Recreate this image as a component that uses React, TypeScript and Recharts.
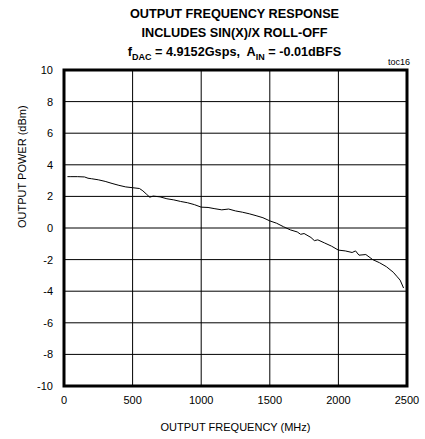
import React from 'react';
import { LineChart, Line, XAxis, YAxis, CartesianGrid, ReferenceArea } from 'recharts';

const freq = [
  25, 50, 100, 150, 175, 200, 250, 300, 350, 400, 450, 500, 550, 575, 600, 625, 650, 700, 750, 800,
  850, 900, 950, 1000, 1050, 1100, 1150, 1200, 1250, 1300, 1350, 1400, 1450, 1500, 1550, 1600,
  1650, 1700, 1725, 1750, 1800, 1825, 1850, 1900, 1950, 2000, 2050, 2100, 2125, 2150, 2200,
  2250, 2300, 2350, 2400, 2425, 2450, 2475,
];
const power = [
  3.25, 3.25, 3.25, 3.23, 3.15, 3.12, 3.05, 2.95, 2.82, 2.7, 2.6, 2.55, 2.5, 2.35, 2.15, 1.95, 2.02, 1.97, 1.85, 1.78,
  1.68, 1.6, 1.48, 1.32, 1.3, 1.22, 1.15, 1.2, 1.08, 1.0, 0.9, 0.78, 0.65, 0.45, 0.3, 0.08,
  -0.12, -0.25, -0.4, -0.35, -0.6, -0.8, -0.75, -0.95, -1.15, -1.4, -1.45, -1.55, -1.45, -1.72, -1.68,
  -2.0, -2.2, -2.45, -2.8, -3.05, -3.3, -3.8,
];
const xTicks = [0, 500, 1000, 1500, 2000, 2500];
const yTicks = [-10, -8, -6, -4, -2, 0, 2, 4, 6, 8, 10];

const data = freq.map((f, i) => ({ f, p: power[i] }));

const font = "'Liberation Sans', Arial, sans-serif";

export default function App() {
  return (
    <div style={{ position: 'absolute', left: 0, top: 0, width: 425, height: 439, background: '#fff', fontFamily: font }}>
      <LineChart width={425} height={439} data={data} margin={{ top: 70, right: 18, bottom: 0, left: 34 }}>
        <CartesianGrid stroke="#000" strokeWidth={1} />
        <XAxis
          dataKey="f"
          type="number"
          domain={[0, 2500]}
          ticks={xTicks}
          height={53}
          tickLine={false}
          axisLine={false}
          tickMargin={4}
          tick={{ fill: '#000', fontSize: 11, fontFamily: font }}
          label={{ value: 'OUTPUT FREQUENCY (MHz)', position: 'insideBottom', offset: 8, fill: '#000', fontSize: 11, fontFamily: font }}
        />
        <YAxis
          type="number"
          domain={[-10, 10]}
          ticks={yTicks}
          width={30}
          tickLine={false}
          axisLine={false}
          tickMargin={5}
          tick={{ fill: '#000', fontSize: 11, fontFamily: font }}
          label={{ value: 'OUTPUT POWER (dBm)', angle: -90, position: 'insideLeft', offset: -12, fill: '#000', fontSize: 11, fontFamily: font }}
        />
        <ReferenceArea x1={0} x2={2500} y1={-10} y2={10} fill="none" stroke="#000" strokeWidth={3} />
        <Line type="linear" dataKey="p" stroke="#000" strokeWidth={1} dot={false} isAnimationActive={false} />
      </LineChart>
      <div style={{ position: 'absolute', left: 22, width: 425, top: 5, textAlign: 'center', fontWeight: 'bold', fontSize: 12.7, lineHeight: '19px', color: '#000' }}>
        <div>OUTPUT FREQUENCY RESPONSE</div>
        <div>INCLUDES SIN(X)/X ROLL-OFF</div>
        <div style={{ marginTop: 0 }}>
          f<sub style={{ fontSize: 9 }}>DAC</sub> = 4.9152Gsps,&nbsp; A<sub style={{ fontSize: 9 }}>IN</sub> = -0.01dBFS
        </div>
      </div>
      <div style={{ position: 'absolute', right: 15, top: 57, fontSize: 9, color: '#000' }}>toc16</div>
    </div>
  );
}
